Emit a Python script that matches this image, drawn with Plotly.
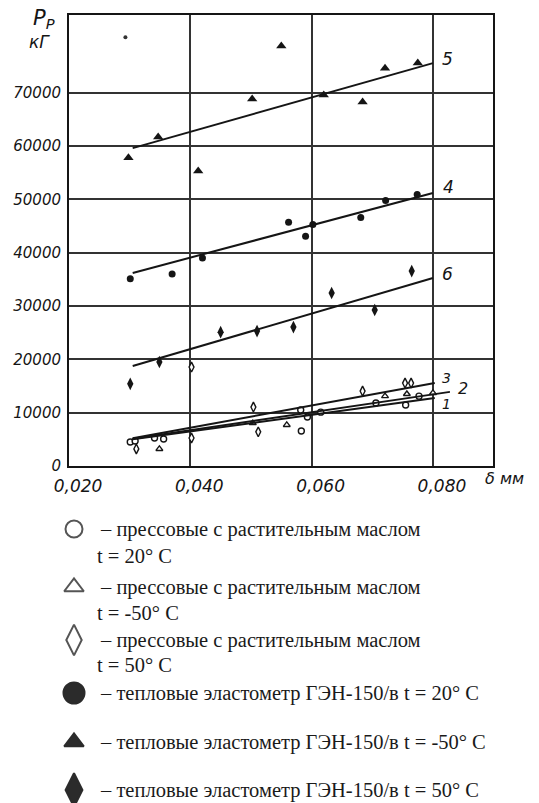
import plotly.graph_objects as go

W, H = 539, 803

# ---------------- data ----------------
x_ticks = [0.020, 0.040, 0.060, 0.080]
x_tick_text = ["0,020", "0,040", "0,060", "0,080"]
y_ticks = [0, 10000, 20000, 30000, 40000, 50000, 60000, 70000]
y_tick_text = ["0", "10000", "20000", "30000", "40000", "50000", "60000", "70000"]

# press, vegetable oil, t = 20 C (open circles) - curve 1
c1_x = [0.0301, 0.0309, 0.0341, 0.0356, 0.0582, 0.0593, 0.0615, 0.0583, 0.0706, 0.0755, 0.0777]
c1_y = [4500, 4700, 5250, 5050, 10500, 9200, 10100, 6550, 11800, 11450, 13100]
# press, vegetable oil, t = -50 C (open triangles) - curve 2
c2_x = [0.0349, 0.0503, 0.0559, 0.0721, 0.0757, 0.0800]
c2_y = [3200, 8050, 7700, 13100, 13500, 13700]
# press, vegetable oil, t = 50 C (open diamonds) - curve 3
c3_x = [0.0311, 0.0402, 0.0402, 0.0504, 0.0512, 0.0684, 0.0754, 0.0764]
c3_y = [3200, 5250, 18550, 11050, 6400, 14050, 15550, 15550]
# thermal, elastometer t = 20 C (filled circles) - curve 4
c4_x = [0.0301, 0.0370, 0.0420, 0.0562, 0.0590, 0.0602, 0.0681, 0.0722, 0.0774]
c4_y = [35100, 36000, 39000, 45700, 43100, 45300, 46600, 49800, 50900]
# thermal, elastometer t = -50 C (filled triangles) - curve 5
c5_x = [0.0298, 0.0347, 0.0413, 0.0502, 0.0550, 0.0620, 0.0684, 0.0721, 0.0775]
c5_y = [57800, 61700, 55300, 68800, 78750, 69550, 68250, 74600, 75550]
# thermal, elastometer t = 50 C (filled diamonds) - curve 6
c6_x = [0.0301, 0.0349, 0.0450, 0.0510, 0.0570, 0.0633, 0.0704, 0.0765]
c6_y = [15400, 19500, 25100, 25300, 26050, 32450, 29250, 36550]
# stray speck near the top
speck_x = [0.0293]
speck_y = [80400]

# fitted straight lines (end points)
fit_names = ["5", "4", "6", "3", "2", "1"]
fit_x = [[0.0305, 0.0800], [0.0305, 0.0800], [0.0305, 0.0800],
         [0.0305, 0.0803], [0.0305, 0.0828], [0.0305, 0.0803]]
fit_y = [[59600, 75550], [36200, 51200], [18750, 35250],
         [5200, 15550], [5100, 13900], [5000, 12750]]
# curve label anchor (value coordinates)
lab_x = [0.0812, 0.0813, 0.0811, 0.0811, 0.0838, 0.0811]
lab_y = [76400, 52400, 36000, 16500, 14600, 11700]
lab_size = [17, 17, 17, 14, 16, 14]

legend_texts = [
    ["– прессовые с растительным маслом", "t = 20° C"],
    ["– прессовые с растительным маслом", "t = -50° C"],
    ["– прессовые с растительным маслом", "t = 50° C"],
    ["– тепловые эластометр ГЭН-150/в t = 20° C"],
    ["– тепловые эластометр ГЭН-150/в t = -50° C"],
    ["– тепловые эластометр ГЭН-150/в t = 50° C"],
]

# ---------------- figure ----------------
INK = "#151515"
HAND = dict(family="DejaVu Sans", color=INK, style="italic")

fig = go.Figure()

open_mk = dict(color="white", size=6, line=dict(color=INK, width=1.4))
fig.add_trace(go.Scatter(x=c1_x, y=c1_y, mode="markers",
                         marker=dict(symbol="circle", **open_mk)))
fig.add_trace(go.Scatter(x=c2_x, y=c2_y, mode="markers",
                         marker=dict(symbol="triangle-up", **open_mk)))
fig.add_trace(go.Scatter(x=c3_x, y=c3_y, mode="markers",
                         marker=dict(symbol="diamond-tall", color="white", size=7,
                                     line=dict(color=INK, width=1.4))))

for i in range(len(fit_names)):
    fig.add_trace(go.Scatter(x=fit_x[i], y=fit_y[i], mode="lines",
                             line=dict(color=INK, width=2)))

fig.add_trace(go.Scatter(x=c4_x, y=c4_y, mode="markers",
                         marker=dict(symbol="circle", color=INK, size=7)))
fig.add_trace(go.Scatter(x=c5_x, y=c5_y, mode="markers",
                         marker=dict(symbol="triangle-up", color=INK, size=9)))
fig.add_trace(go.Scatter(x=c6_x, y=c6_y, mode="markers",
                         marker=dict(symbol="diamond-tall", color=INK, size=9)))
fig.add_trace(go.Scatter(x=speck_x, y=speck_y, mode="markers",
                         marker=dict(symbol="circle", color="#333", size=4)))

# curve labels
for i, t in enumerate(fit_names):
    fig.add_annotation(x=lab_x[i], y=lab_y[i], xref="x", yref="y", text=t,
                       showarrow=False, xanchor="left", yanchor="middle",
                       font=dict(size=lab_size[i], **HAND))

# ---------------- legend (drawn on a hidden helper axis in pixel units) ----------------
leg_symbols = ["circle-open", "triangle-up-open", "diamond-tall-open",
               "circle", "triangle-up", "diamond-tall"]
leg_sizes = [17, 17, 22, 21, 17, 24]
leg_rows = [529, 587, 640, 693, 742, 790]
leg_line2 = [556, 613, 665, None, None, None]
LEG_FONT = dict(family="Liberation Serif", size=20.5, color="#1a1a1a")
for i, s in enumerate(leg_symbols):
    filled = not s.endswith("open")
    fig.add_trace(go.Scatter(
        x=[74], y=[leg_rows[i]], mode="markers", xaxis="x2", yaxis="y2",
        marker=dict(symbol=s, size=leg_sizes[i],
                    color="#2b2b2b" if filled else "#555",
                    line=dict(color="#555" if not filled else "#2b2b2b", width=2))))
    fig.add_annotation(x=98, y=leg_rows[i], xref="x2", yref="y2",
                       text=legend_texts[i][0], showarrow=False,
                       xanchor="left", yanchor="middle", font=LEG_FONT)
    if len(legend_texts[i]) > 1:
        fig.add_annotation(x=95, y=leg_line2[i], xref="x2", yref="y2",
                           text=legend_texts[i][1], showarrow=False,
                           xanchor="left", yanchor="middle", font=LEG_FONT)

# axis titles
fig.add_annotation(x=31 / W, y=1 - 19 / H, xref="paper", yref="paper",
                   text="P<sub>P</sub>", showarrow=False, xanchor="left", yanchor="middle",
                   font=dict(size=21, **HAND))
fig.add_annotation(x=27 / W, y=1 - 42 / H, xref="paper", yref="paper",
                   text="кГ", showarrow=False, xanchor="left", yanchor="middle",
                   font=dict(size=17, **HAND))
fig.add_annotation(x=483 / W, y=1 - 478 / H, xref="paper", yref="paper",
                   text="δ мм", showarrow=False, xanchor="left", yanchor="middle",
                   font=dict(size=16, **HAND))

fig.update_layout(
    width=W, height=H,
    margin=dict(l=0, r=0, t=0, b=0, autoexpand=False),
    paper_bgcolor="white", plot_bgcolor="white",
    showlegend=False,
    xaxis=dict(domain=[69 / W, 493 / W], range=[0.020, 0.0899], automargin=False,
               tickvals=x_ticks, ticktext=x_tick_text,
               showgrid=True, gridcolor="#333333", gridwidth=2,
               zeroline=False, showline=True, mirror=True,
               linecolor=INK, linewidth=2, ticks="",
               ticklabelshift=9, ticklabelstandoff=4,
               tickfont=dict(size=17, **HAND)),
    yaxis=dict(domain=[1 - 466 / H, 1 - 15 / H], range=[0, 84570], automargin=False,
               tickvals=y_ticks, ticktext=y_tick_text,
               showgrid=True, gridcolor="#333333", gridwidth=2,
               zeroline=False, showline=True, mirror=True,
               linecolor=INK, linewidth=2, ticks="",
               ticklabelstandoff=3,
               tickfont=dict(size=15, **HAND)),
    xaxis2=dict(domain=[0, 1], range=[0, W], visible=False, anchor="y2", automargin=False),
    yaxis2=dict(domain=[0, (H - 500) / H], range=[H, 500], visible=False, anchor="x2",
                automargin=False),
)

fig.write_html("out.html",
               config={"displayModeBar": False, "staticPlot": True},
               post_script="document.body.style.margin='0';document.body.style.overflow='hidden';")
